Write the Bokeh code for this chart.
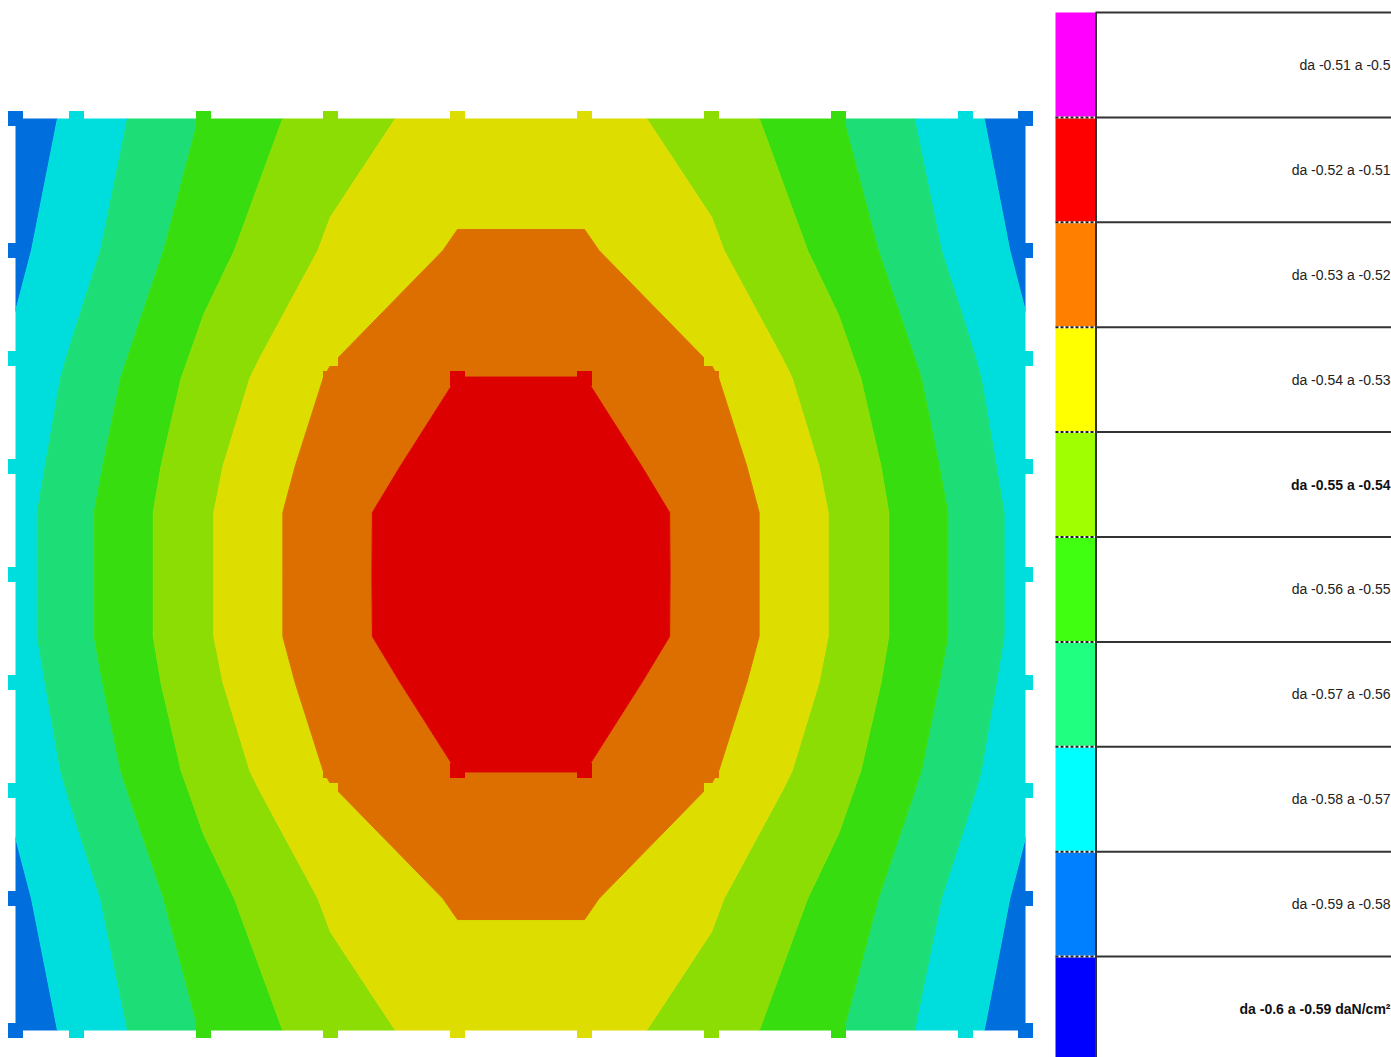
import numpy as np
from bokeh.plotting import figure
from bokeh.models import Range1d
from bokeh.embed import file_html
from bokeh.resources import INLINE
from bokeh.core.properties import value

# ---------------- data ----------------
# plate node coordinates (cm), origin at bottom-left corner of the plate
X_NODES = [0, 61, 188, 315, 442, 569, 696, 823, 950, 1010]
Y_NODES = [0, 132, 240, 260, 348, 394, 456, 518, 564, 652, 672, 780, 912]
# rows that carry edge nodes of the mesh
MESH_ROWS = [0, 132, 240, 348, 456, 564, 672, 780, 912]

# stress (daN/cm²) at the nodes, one list per row of Y_NODES (bottom -> top)
STRESS = [
    [-0.5862, -0.5772, -0.5593, -0.5444, -0.5358, -0.5358, -0.5444, -0.5593, -0.5772, -0.5862],
    [-0.5822, -0.5738, -0.5537, -0.5385, -0.5289, -0.5289, -0.5385, -0.5537, -0.5738, -0.5822],
    [-0.5783, -0.5683, -0.5475, -0.5305, -0.5213, -0.5213, -0.5305, -0.5475, -0.5683, -0.5783],
    [-0.5776, -0.5673, -0.5463, -0.5290, -0.5199, -0.5199, -0.5290, -0.5463, -0.5673, -0.5776],
    [-0.5752, -0.5645, -0.5427, -0.5251, -0.5158, -0.5158, -0.5251, -0.5427, -0.5645, -0.5752],
    [-0.5739, -0.5630, -0.5415, -0.5231, -0.5137, -0.5137, -0.5231, -0.5415, -0.5630, -0.5739],
    [-0.5739, -0.5630, -0.5415, -0.5231, -0.5136, -0.5136, -0.5231, -0.5415, -0.5630, -0.5739],
    [-0.5739, -0.5630, -0.5415, -0.5231, -0.5137, -0.5137, -0.5231, -0.5415, -0.5630, -0.5739],
    [-0.5752, -0.5645, -0.5427, -0.5251, -0.5158, -0.5158, -0.5251, -0.5427, -0.5645, -0.5752],
    [-0.5776, -0.5673, -0.5463, -0.5290, -0.5199, -0.5199, -0.5290, -0.5463, -0.5673, -0.5776],
    [-0.5783, -0.5683, -0.5475, -0.5305, -0.5213, -0.5213, -0.5305, -0.5475, -0.5683, -0.5783],
    [-0.5822, -0.5738, -0.5537, -0.5385, -0.5289, -0.5289, -0.5385, -0.5537, -0.5738, -0.5822],
    [-0.5862, -0.5772, -0.5593, -0.5444, -0.5358, -0.5358, -0.5444, -0.5593, -0.5772, -0.5862],
]

LEVELS = [-0.60, -0.59, -0.58, -0.57, -0.56, -0.55, -0.54, -0.53, -0.52, -0.51, -0.50]

# band colours, low -> high (shaded as drawn on the plate)
PLATE_COLORS = ["#0000DD", "#006FDD", "#00DDDD", "#1DDE76", "#38DD10",
                "#8BDD03", "#DDDD00", "#DD6F00", "#DD0000", "#DD00DD"]
# legend swatches, top -> bottom
LEGEND_COLORS = ["#FF00FF", "#FF0000", "#FF8000", "#FFFF00", "#A0FF00",
                 "#40FF10", "#20FF80", "#00FFFF", "#0080FF", "#0000FF"]
LEGEND_LABELS = ["da -0.51 a -0.5", "da -0.52 a -0.51", "da -0.53 a -0.52",
                 "da -0.54 a -0.53", "da -0.55 a -0.54", "da -0.56 a -0.55",
                 "da -0.57 a -0.56", "da -0.58 a -0.57", "da -0.59 a -0.58",
                 "da -0.6 a -0.59 daN/cm²"]
LEGEND_BOLD = [4, 9]

# ---------------- figure ----------------
W, H = 1391, 1057
X0, X1 = -15, 1376
Y0, Y1 = -27, 1030
p = figure(width=W, height=H, x_range=Range1d(X0, X1), y_range=Range1d(Y0, Y1),
           x_axis_type=None, y_axis_type=None, toolbar_location=None,
           output_backend="svg", min_border=0)
p.min_border_left = p.min_border_right = p.min_border_top = p.min_border_bottom = 0
p.grid.visible = False
p.outline_line_color = None
p.background_fill_color = "white"
p.border_fill_color = "white"

xx, yy = np.meshgrid(np.array(X_NODES, float), np.array(Y_NODES, float))
zz = np.array(STRESS, float)

line_cols = PLATE_COLORS + [PLATE_COLORS[-1]]
p.contour(x=xx, y=yy, z=zz, levels=LEVELS, fill_color=PLATE_COLORS,
          line_color=line_cols, line_width=1)

# node markers coloured by band
mx, my, mc = [], [], []
nx = len(X_NODES)
for i, yv in enumerate(Y_NODES):
    for j, xv in enumerate(X_NODES):
        edge_col = j == 0 or j == nx - 1
        if edge_col and yv not in MESH_ROWS:
            continue
        band = int(np.digitize(STRESS[i][j], LEVELS)) - 1
        band = min(max(band, 0), len(PLATE_COLORS) - 1)
        mx.append(xv); my.append(yv); mc.append(PLATE_COLORS[band])
p.scatter(mx, my, marker="square", size=15, fill_color=mc, line_color=None)

# ---------------- legend ----------------
top = 1018.0
step = 104.9
sw_l, sw_r = 1040, 1080
right = X1
n = len(LEGEND_LABELS)
tops = [top - k * step for k in range(n)]
bots = [t - step for t in tops]
p.quad(left=[sw_l] * n, right=[sw_r] * n, top=tops, bottom=bots,
       fill_color=LEGEND_COLORS, line_color=None)
# separators
p.segment(x0=[sw_r] * n, y0=tops, x1=[right] * n, y1=tops, line_color="#333333", line_width=2)
p.segment(x0=[sw_l] * (n - 1), y0=tops[1:], x1=[sw_r] * (n - 1), y1=tops[1:],
          line_color="white", line_width=2)
p.segment(x0=[sw_l] * (n - 1), y0=tops[1:], x1=[sw_r] * (n - 1), y1=tops[1:],
          line_color="#222222", line_width=2, line_dash="3 2")
p.segment(x0=[sw_r + 0.5], y0=[top], x1=[sw_r + 0.5], y1=[Y0], line_color="#333333", line_width=2)

mids = [(t + b) / 2 for t, b in zip(tops, bots)]
norm_idx = [k for k in range(n) if k not in LEGEND_BOLD]
p.text(x=[right - 1] * len(norm_idx), y=[mids[k] for k in norm_idx],
       text=[LEGEND_LABELS[k] for k in norm_idx], text_align="right", text_baseline="middle",
       text_font=value("Liberation Sans"), text_font_size="14px", text_color="#222222")
p.text(x=[right - 1] * len(LEGEND_BOLD), y=[mids[k] for k in LEGEND_BOLD],
       text=[LEGEND_LABELS[k] for k in LEGEND_BOLD], text_align="right", text_baseline="middle",
       text_font=value("Liberation Sans"), text_font_size="14px", text_color="#111111",
       text_font_style="bold")

open("out.html", "w").write(file_html(p, INLINE))
